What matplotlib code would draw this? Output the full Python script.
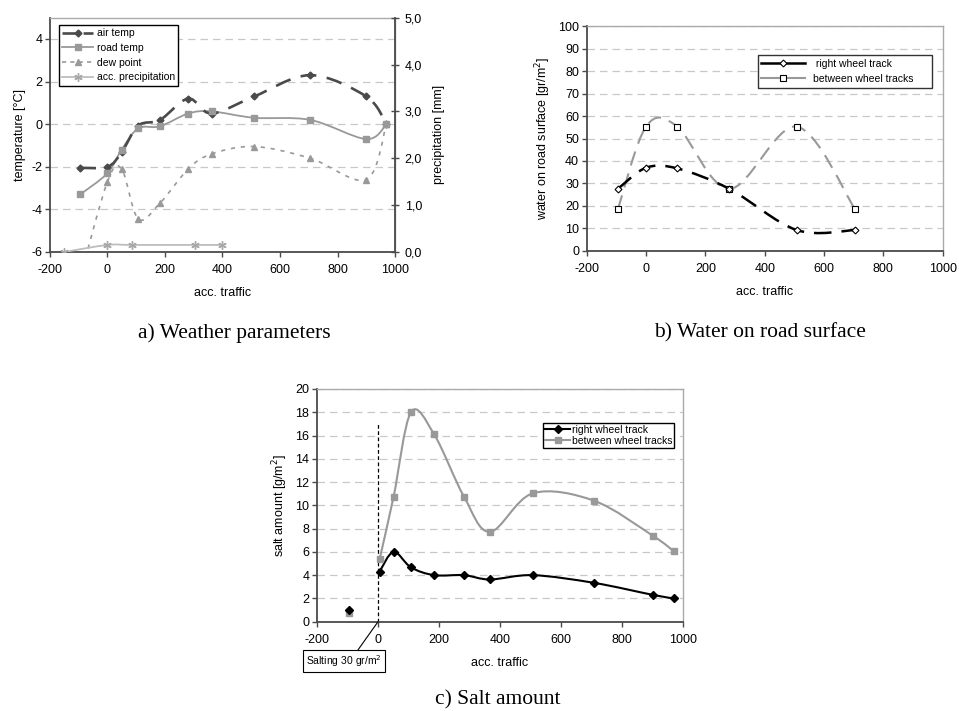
import numpy as np
import matplotlib
matplotlib.use('Agg')
import matplotlib.pyplot as plt
from matplotlib.path import Path
from matplotlib.patches import PathPatch
from matplotlib.lines import Line2D

plt.rcParams['font.family'] = ['Liberation Sans', 'DejaVu Sans']
plt.rcParams['font.size'] = 9
plt.rcParams['axes.unicode_minus'] = False

# a) weather parameters
a_x = [-95, 0, 49, 107, 183, 281, 362, 510, 705, 900, 970]
air_temp = [-2.05, -2.0, -1.33, -0.07, 0.2, 1.2, 0.5, 1.3, 2.3, 1.3, 0.0]
road_temp = [-3.3, -2.3, -1.2, -0.2, -0.1, 0.5, 0.6, 0.3, 0.2, -0.7, 0.0]
dew_point = [-7.2, -2.7, -2.1, -4.45, -3.7, -2.1, -1.4, -1.05, -1.6, -2.6, 0.0]
precip_x = [-150, 0, 85, 305, 400]
precip = [0.0, 0.15, 0.15, 0.15, 0.15]
precip_ticks = [0, 1, 2, 3, 4, 5]
precip_labels = ['0,0', '1,0', '2,0', '3,0', '4,0', '5,0']

# b) water on road surface
b_x = [-95, 0, 105, 281, 508, 705]
water_right = [27.6, 37.0, 36.7, 27.6, 9.3, 9.3]
water_between = [18.5, 55.3, 55.3, 27.6, 55.3, 18.5]

# c) salt amount
c_pre_x = [-95]
salt_right_pre = [1.0]
salt_between_pre = [0.75]
c_x = [5, 51, 108, 184, 282, 367, 507, 708, 902, 970]
salt_right = [4.3, 6.0, 4.67, 4.0, 4.0, 3.63, 4.0, 3.34, 2.3, 2.0]
salt_between = [5.36, 10.74, 18.0, 16.1, 10.74, 7.72, 11.03, 10.4, 7.37, 6.05]
salting_x = 0
salting_top = 17.2

xticks = [-200, 0, 200, 400, 600, 800, 1000]

DARK = '#4a4a4a'
MID = '#999999'
LIGHT = '#bdbdbd'
GRID = '#c8c8c8'


def smooth_path(x, y):
    # excel-like smoothed line (catmull-rom as cubic bezier)
    pts = np.column_stack([x, y]).astype(float)
    n = len(pts)
    verts = [pts[0]]
    codes = [Path.MOVETO]
    for i in range(n - 1):
        p0 = pts[i - 1] if i > 0 else pts[i]
        p1 = pts[i]
        p2 = pts[i + 1]
        p3 = pts[i + 2] if i + 2 < n else pts[i + 1]
        verts += [p1 + (p2 - p0) / 6, p2 - (p3 - p1) / 6, p2]
        codes += [Path.CURVE4] * 3
    return Path(verts, codes)


def smooth_line(ax, x, y, **kw):
    ax.add_patch(PathPatch(smooth_path(x, y), fill=False, capstyle='butt', **kw))


def style_axes(ax, ylim, yticks):
    ax.set_xlim(-200, 1000)
    ax.set_xticks(xticks)
    ax.set_ylim(*ylim)
    ax.set_yticks(yticks)
    for s in ['left', 'bottom']:
        ax.spines[s].set_color(DARK)
        ax.spines[s].set_linewidth(1.3)
    for s in ['top', 'right']:
        ax.spines[s].set_color('#aaaaaa')
        ax.spines[s].set_linewidth(1.0)
    ax.tick_params(direction='out', length=3.5, width=1, color=DARK, labelsize=9, pad=2)
    ax.tick_params(axis='x', pad=5)
    ax.yaxis.grid(True, ls=(0, (6, 4)), color=GRID, lw=0.9)
    ax.set_axisbelow(True)
    ax.set_xlabel('acc. traffic', fontsize=9, labelpad=8)


fig = plt.figure(figsize=(9.59, 7.11), dpi=100)

# ---- a)
ax1 = fig.add_axes([0.0521, 0.6456, 0.3598, 0.3296])
style_axes(ax1, (-6, 5), [-6, -4, -2, 0, 2, 4])
ax1.set_ylabel('temperature [°C]', fontsize=9, labelpad=4)
smooth_line(ax1, a_x, dew_point, ec=MID, lw=1.2, ls=(0, (2.5, 3.5)))
smooth_line(ax1, a_x, road_temp, ec=MID, lw=1.3)
smooth_line(ax1, a_x, air_temp, ec=DARK, lw=1.9, ls=(0, (6, 4)))
ax1.plot(a_x, dew_point, ls='none', marker='^', ms=5, color=MID)
ax1.plot(a_x, air_temp, ls='none', marker='D', ms=3.5, color=DARK)
ax1.plot(a_x, road_temp, ls='none', marker='s', ms=5, color=MID)

ax1b = ax1.twinx()
ax1b.set_ylim(0, 5)
ax1b.set_yticks(precip_ticks)
ax1b.set_yticklabels(precip_labels)
ax1b.spines['right'].set_color(DARK)
ax1b.spines['right'].set_linewidth(1.3)
for s in ['left', 'top', 'bottom']:
    ax1b.spines[s].set_visible(False)
ax1b.tick_params(direction='inout', length=6, width=1, color=DARK, labelsize=9, pad=4)
ax1b.set_ylabel('precipitation [mm]', fontsize=9, labelpad=8)
smooth_line(ax1b, precip_x, precip, ec=LIGHT, lw=1.3)
ax1b.plot(precip_x, precip, ls='none', marker=(6, 2, 0), ms=6, mew=1, color='#a8a8a8')

h1 = [Line2D([], [], color=DARK, lw=1.9, ls=(0, (6, 2)), marker='D', ms=3.5),
      Line2D([], [], color=MID, lw=1.3, marker='s', ms=5),
      Line2D([], [], color=MID, lw=1.2, ls=(0, (2.5, 2.5)), marker='^', ms=5),
      Line2D([], [], color=LIGHT, lw=1.3, marker=(6, 2, 0), ms=6, mec='#a8a8a8')]
leg1 = ax1b.legend(h1, ['air temp', 'road temp', 'dew point', 'acc. precipitation'],
                   loc='upper left', bbox_to_anchor=(0.025, 0.97), fontsize=7.5,
                   fancybox=False, framealpha=1, edgecolor='black', handlelength=3.0,
                   handletextpad=0.3, borderpad=0.35, labelspacing=0.45, borderaxespad=0)
leg1.get_frame().set_linewidth(1.0)

# ---- b)
ax2 = fig.add_axes([0.6118, 0.647, 0.3712, 0.3164])
style_axes(ax2, (0, 100), list(range(0, 101, 10)))
ax2.set_ylabel('water on road surface [gr/m$^2$]', fontsize=9, labelpad=4)
smooth_line(ax2, b_x, water_between, ec=MID, lw=1.5, ls=(0, (7, 4)))
smooth_line(ax2, b_x, water_right, ec='black', lw=1.8, ls=(0, (7, 4)))
ax2.plot(b_x, water_between, ls='none', marker='s', ms=4.5, mfc='white', mec='black', mew=0.8)
ax2.plot(b_x, water_right, ls='none', marker='D', ms=3.5, mfc='white', mec='black', mew=0.8)
h2 = [Line2D([], [], color='black', lw=1.8, marker='D', ms=3.5, mfc='white', mec='black', mew=0.8),
      Line2D([], [], color=MID, lw=1.5, marker='s', ms=4.5, mfc='white', mec='black', mew=0.8)]
leg2 = ax2.legend(h2, [' right wheel track     ', 'between wheel tracks     '], loc='upper left',
                  bbox_to_anchor=(0.48, 0.87), fontsize=7.5, fancybox=False, framealpha=1,
                  edgecolor='#333333', handlelength=4.2, borderpad=0.35, labelspacing=0.5,
                  borderaxespad=0)
leg2.get_frame().set_linewidth(1.0)

# ---- c)
ax3 = fig.add_axes([0.3306, 0.1256, 0.3816, 0.3273])
style_axes(ax3, (0, 20), list(range(0, 21, 2)))
ax3.set_ylabel('salt amount [g/m$^2$]', fontsize=9, labelpad=4)
ax3.vlines(salting_x, 0, salting_top, colors='black', linestyles=(0, (3, 2)), lw=0.9)
smooth_line(ax3, c_x, salt_between, ec=MID, lw=1.5)
smooth_line(ax3, c_x, salt_right, ec='black', lw=1.5)
ax3.plot(c_x, salt_between, ls='none', marker='s', ms=4.5, color=MID)
ax3.plot(c_x, salt_right, ls='none', marker='D', ms=4, color='black')
ax3.plot(c_pre_x, salt_between_pre, ls='none', marker='s', ms=4.5, color=MID)
ax3.plot(c_pre_x, salt_right_pre, ls='none', marker='D', ms=4, color='black')
h3 = [Line2D([], [], color='black', lw=1.5, marker='D', ms=4),
      Line2D([], [], color=MID, lw=1.5, marker='s', ms=4.5)]
leg3 = ax3.legend(h3, ['right wheel track', 'between wheel tracks'], loc='upper left',
                  bbox_to_anchor=(0.618, 0.854), fontsize=7.5, fancybox=False, framealpha=1,
                  edgecolor='black', handlelength=2.4, handletextpad=0.15, borderpad=0.2,
                  labelspacing=0.1, borderaxespad=0)
leg3.get_frame().set_linewidth(1.0)
ax3.annotate('Salting 30 gr/m$^2$', xy=(salting_x, 0), xytext=(-111, -3.4),
             textcoords='data', annotation_clip=False, fontsize=7.5, ha='center', va='center',
             bbox=dict(boxstyle='square,pad=0.3', fc='white', ec='black', lw=0.8),
             arrowprops=dict(arrowstyle='-', color='black', lw=0.8, relpos=(0.65, 1.0),
                             shrinkA=0, shrinkB=0))

# captions
cap = dict(family=['Liberation Serif', 'DejaVu Serif'], fontsize=15.5, ha='center', va='center')
fig.text(234 / 959, 1 - 333 / 711, 'a) Weather parameters', **cap)
fig.text(760 / 959, 1 - 333 / 711, 'b) Water on road surface', **cap)
fig.text(498 / 959, 1 - 700 / 711, 'c) Salt amount', **cap)

fig.savefig('out.png', dpi=100)
